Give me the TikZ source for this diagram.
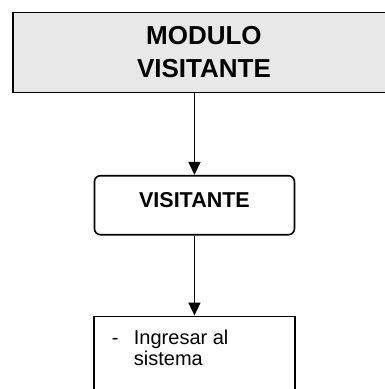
\documentclass[tikz,border=0pt]{standalone}
\usepackage{fontspec}
\setmainfont{Liberation Sans}
\definecolor{modgray}{RGB}{232,232,232}
\usetikzlibrary{positioning,arrows.meta}

\begin{document}
\begin{tikzpicture}[x=1pt,y=-1pt,
    modbox/.style={draw, line width=1.9pt, fill=modgray, minimum width=382pt, minimum height=80pt,
        inner sep=0pt, align=center, font=\fontsize{26}{33}\selectfont\bfseries},
    userbox/.style={draw, line width=1.6pt, rounded corners=6pt, minimum width=200pt, minimum height=59pt,
        inner sep=0pt, text depth=11pt, font=\fontsize{21.5}{24}\selectfont\bfseries},
    taskbox/.style={draw, line width=1.6pt, inner xsep=18pt, inner ysep=14pt,
        font=\fontsize{20}{21}\selectfont},
    conn/.style={line width=1.7pt, -{Triangle[width=12pt,length=13pt]}}]
    \useasboundingbox (0,0) rectangle (384,389);

    \node[modbox, anchor=north west] (modulo) at (12,11.5) {MODULO\\VISITANTE};
    \node[userbox, below=81.5pt of modulo, xshift=-9.5pt] (visitante) {VISITANTE};
    \node[taskbox, below=80pt of visitante] (ingresar) {%
        \parbox[t][60pt][t]{165pt}{\hangindent=22pt\hangafter=1\noindent
            \makebox[22pt][l]{-}Ingresar al\\sistema}};

    \draw[conn] (modulo.south -| visitante.north) -- (visitante.north);
    \draw[conn] (visitante.south) -- (ingresar.north);
\end{tikzpicture}
\end{document}
